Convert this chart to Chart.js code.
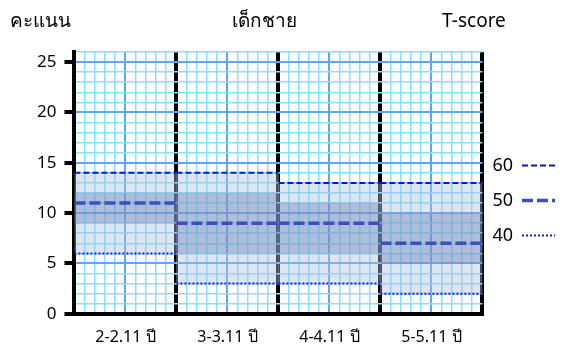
<!DOCTYPE html>
<html>
<head>
<meta charset="utf-8">
<script src="https://cdn.jsdelivr.net/npm/chart.js"></script>
<style>
  html, body { margin: 0; padding: 0; background: #fff; }
  #wrap { width: 564px; height: 349px; }
</style>
</head>
<body>
<div id="wrap"><canvas id="myChart"></canvas></div>
<script>
var ageGroups = ['2-2.11 ปี', '3-3.11 ปี', '4-4.11 ปี', '5-5.11 ปี'];
var tScore60 = [14, 14, 13, 13];
var tScore50 = [11, 9, 9, 7];
var tScore40 = [6, 3, 3, 2];
// darker middle band per age group
var midLow = [9, 6, 6, 5];
var midHigh = [12, 12, 11, 10];
var yLabels = [0, 5, 10, 15, 20, 25];

var FONT = '"Noto Sans", "DejaVu Sans", sans-serif';
var MINOR = '#86e2fb';
var MAJOR = '#5ea6f2';

// one flat segment across every age block, broken between blocks
function levelLine(values) {
    var pts = [];
    for (var i = 0; i < values.length; i++) {
        pts.push({x: i, y: values[i]});
        pts.push({x: i + 1, y: values[i]});
        pts.push({x: i + 1, y: null});
    }
    return pts;
}
function band(lo, hi) {
    return lo.map(function(v, i) { return [v, hi[i]]; });
}
function near(v, target) { return Math.abs(v - target) < 1e-6; }
function tickVal(c) { return c.tick ? c.tick.value : null; }

// top captions
var headings = {
    id: 'headings',
    afterLayout: function(chart) {
        // lift the legend column a bit
        if (chart.legend) {
            chart.legend.top -= 6;
            chart.legend.bottom -= 6;
        }
    },
    afterDraw: function(chart) {
        var c = chart.ctx;
        c.save();
        c.font = '19px ' + FONT;
        c.fillStyle = '#000';
        c.textBaseline = 'middle';
        c.textAlign = 'left';
        c.fillText('คะแนน', 10, 22);
        c.textAlign = 'center';
        c.fillText('เด็กชาย', 264, 22);
        c.textAlign = 'left';
        c.fillText('T-score', 442, 22);
        c.restore();
    }
};

var ctx = document.getElementById('myChart').getContext('2d');
var myChart = new Chart(ctx, {
    type: 'line',
    data: {
        labels: ageGroups,
        datasets: [
            {label: '60', data: levelLine(tScore60), borderColor: '#0c18c4', borderWidth: 2,
             borderDash: [6, 3], pointRadius: 0, pointHoverRadius: 0, order: 0},
            {label: '50', data: levelLine(tScore50), borderColor: '#3a4fc0', borderWidth: 3.5,
             borderDash: [11, 4], pointRadius: 0, pointHoverRadius: 0, order: 0},
            {label: '40', data: levelLine(tScore40), borderColor: '#1420d0', borderWidth: 2,
             borderDash: [2, 2], pointRadius: 0, pointHoverRadius: 0, order: 0},
            {type: 'bar', label: '', xAxisID: 'xb', data: band(midLow, midHigh),
             backgroundColor: 'rgba(100,125,180,0.39)', borderWidth: 0, grouped: false,
             categoryPercentage: 1, barPercentage: 1, order: 1},
            {type: 'bar', label: '', xAxisID: 'xb', data: band(tScore40, tScore60),
             backgroundColor: 'rgba(170,190,225,0.4)', borderWidth: 0, grouped: false,
             categoryPercentage: 1, barPercentage: 1, order: 2}
        ]
    },
    options: {
        responsive: true,
        maintainAspectRatio: false,
        animation: false,
        layout: {autoPadding: false, padding: {top: 52, left: 29, right: -8, bottom: -12}},
        scales: {
            x: {
                type: 'linear', min: 0, max: 4, offset: false,
                border: {display: true, color: '#000', width: 4},
                grid: {
                    drawTicks: false,
                    color: function(c) {
                        var v = tickVal(c);
                        if (v === null) return '#000';
                        if (near(v, Math.round(v))) return '#000';
                        if (near(v - Math.floor(v), 0.5)) return MAJOR;
                        return MINOR;
                    },
                    lineWidth: function(c) {
                        var v = tickVal(c);
                        if (v === null) return 4;
                        if (near(v, Math.round(v))) return 4;
                        if (near(v - Math.floor(v), 0.5)) return 2;
                        return 1.5;
                    }
                },
                ticks: {
                    stepSize: 0.1, autoSkip: false, maxRotation: 0, padding: 14,
                    color: '#000', font: {family: FONT, size: 16},
                    callback: function(v) {
                        var i = Math.floor(v);
                        return near(v - i, 0.5) ? ageGroups[i] : '';
                    }
                }
            },
            xb: {
                type: 'category', labels: ageGroups, offset: true, display: false
            },
            y: {
                min: 0, max: 26,
                border: {display: true, color: '#000', width: 4},
                grid: {
                    color: function(c) { var v = tickVal(c); return v !== null && v % 5 === 0 ? MAJOR : MINOR; },
                    lineWidth: function(c) { var v = tickVal(c); return v !== null && v % 5 === 0 ? 2 : 1.5; },
                    tickLength: 10,
                    tickWidth: 4,
                    tickColor: function(c) { return yLabels.indexOf(tickVal(c)) >= 0 ? '#000' : 'rgba(0,0,0,0)'; }
                },
                ticks: {
                    stepSize: 1, autoSkip: false, padding: 8,
                    color: '#000', font: {family: FONT, size: 17},
                    callback: function(v) { return yLabels.indexOf(v) >= 0 ? v : ''; }
                }
            }
        },
        plugins: {
            tooltip: {enabled: false},
            legend: {
                position: 'right', rtl: true, textDirection: 'ltr',
                labels: {
                    usePointStyle: true, pointStyleWidth: 33,
                    color: '#000', font: {family: FONT, size: 18}, padding: 17,
                    // the three T-score lines, drawn with their own dash style
                    generateLabels: function(chart) {
                        return chart.data.datasets.slice(0, 3).map(function(ds, i) {
                            return {
                                text: ds.label, datasetIndex: i, hidden: false,
                                strokeStyle: ds.borderColor, fillStyle: ds.borderColor,
                                lineWidth: ds.borderWidth, lineDash: ds.borderDash,
                                pointStyle: 'line', fontColor: '#000'
                            };
                        });
                    }
                }
            }
        }
    },
    plugins: [headings]
});
</script>
</body>
</html>
